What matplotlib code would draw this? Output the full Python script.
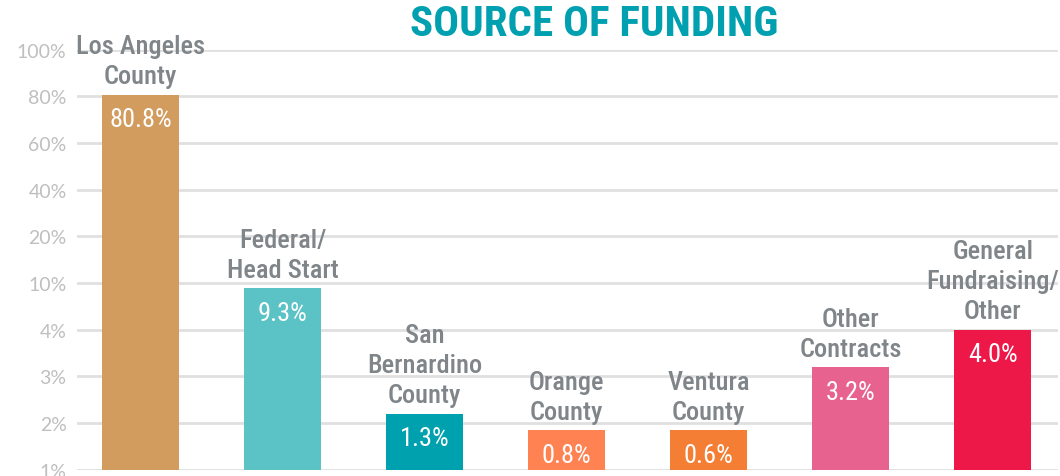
import matplotlib.pyplot as plt
import numpy as np

# Data
categories = ['Los Angeles\nCounty', 'Federal/\nHead Start', 'San\nBernardino\nCounty',
              'Orange\nCounty', 'Ventura\nCounty', 'Other\nContracts',
              'General\nFundraising/\nOther']
shares = [80.8, 9.3, 1.3, 0.8, 0.6, 3.2, 4.0]          # printed values (%)
bar_heights = [80.8, 9.3, 2.2, 1.85, 1.85, 3.2, 4.0]   # drawn heights on the chart's axis (%)
tick_values = [1, 2, 3, 4, 10, 20, 40, 60, 80, 100]
tick_labels = ['1%', '2%', '3%', '4%', '10%', '20%', '40%', '60%', '80%', '100%']
colors = ['#D39C5F', '#5BC2C5', '#00A1AE', '#FF8253', '#F47E34', '#E8628F', '#EE1848']

plt.rcParams['font.family'] = ['Roboto Condensed', 'Barlow Condensed', 'DejaVu Sans']

# piecewise scale: each tick is one equal step
pos = np.arange(len(tick_values))
def forward(v):
    return np.interp(v, tick_values, pos)
def inverse(p):
    return np.interp(p, pos, tick_values)

fig = plt.figure(figsize=(10.6, 4.77), dpi=100)
ax = fig.add_axes([77 / 1060, 1 - 470.7 / 477, (1058 - 77) / 1060, 420 / 477])
ax.set_yscale('function', functions=(forward, inverse))
ax.set_ylim(1, 100)

x = np.arange(len(categories))
ax.set_xlim(-0.447, 6.46)
heights = np.array(bar_heights) - 1
bars = ax.bar(x, heights, 0.54, bottom=1, color=colors, zorder=2)

for xi, top, cat, val in zip(x, bar_heights, categories, shares):
    ax.annotate(cat, (xi, top), xytext=(0, 4.5), textcoords='offset points',
                ha='center', va='bottom', fontsize=19, fontweight=500,
                color='#7F8589', linespacing=1.32)
    ax.annotate(f'{val:.1f}%', (xi, top), xytext=(0, -9), textcoords='offset points',
                ha='center', va='top', fontsize=19, color='white')

ax.set_yticks(tick_values)
ax.set_yticklabels(tick_labels, fontfamily=['Lato', 'DejaVu Sans'])
ax.tick_params(axis='y', length=0, pad=7.5, labelsize=14, labelcolor='#BFBFBF')
ax.set_xticks([])
ax.grid(axis='y', color='#E0E0E0', linewidth=2, zorder=0)
ax.set_axisbelow(True)
for s in ax.spines.values():
    s.set_visible(False)

fig.text(594 / 1060, 1 - 24 / 477, 'SOURCE OF FUNDING', ha='center', va='center',
         fontsize=31, fontweight='bold', color='#00A0B0')

fig.savefig('out.png', dpi=100)
